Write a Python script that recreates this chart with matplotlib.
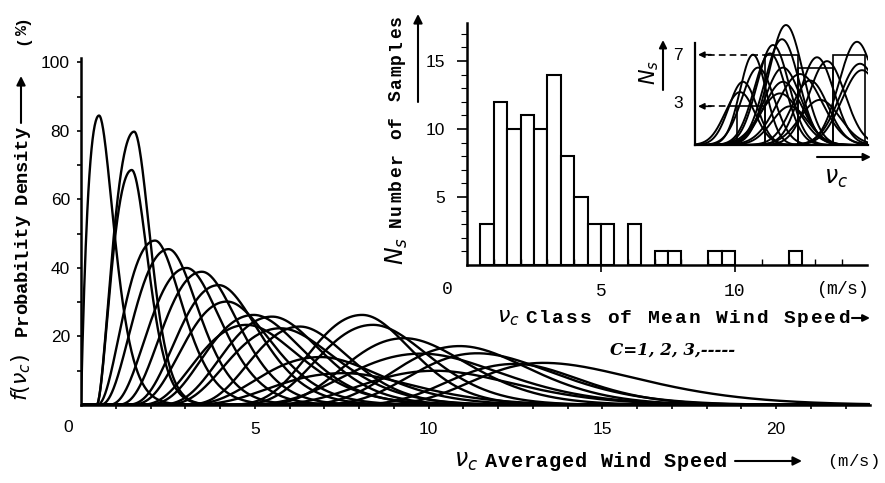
import numpy as np
import matplotlib.pyplot as plt
from matplotlib.patches import FancyArrowPatch

W, H = 885, 483

# main chart: density curves, one per wind-speed class
# (start of support, mode, peak height %, left shape, right shape)
cur_start = [0.00, 0.45, 0.45, 0.45, 0.50, 0.70, 0.90, 1.10, 1.20, 1.50, 1.80, 1.50, 2.00,
             2.50, 3.20, 3.50, 4.00, 4.50, 5.00, 6.50, 6.00, 2.50, 2.50, 3.50, 4.00]
cur_mode = [0.52, 1.53, 1.46, 2.13, 2.52, 3.04, 3.48, 3.96, 4.20, 4.97, 5.50, 4.77, 5.74,
            6.30, 8.09, 8.40, 9.30, 10.90, 11.40, 13.30, 12.50, 7.56, 6.90, 9.80, 10.20]
cur_peak = [84.5, 79.8, 68.6, 48.0, 45.5, 40.0, 38.9, 35.0, 30.2, 26.3, 25.8, 23.4, 22.4,
            22.9, 26.3, 23.4, 19.5, 17.2, 15.1, 12.3, 12.0, 9.3, 14.0, 15.0, 10.0]
cur_kl = [1.0, 2.0, 2.0, 2.5, 3.0, 3.5, 4.0, 4.5, 4.5, 5.0, 5.5, 4.0, 5.0,
          6.0, 9.0, 8.0, 8.0, 10.0, 10.0, 10.0, 10.0, 5.0, 5.0, 7.0, 7.0]
cur_kr = [2.2, 7.0, 6.0, 6.0, 7.0, 7.0, 7.5, 7.5, 7.0, 7.5, 8.5, 6.0, 7.0,
          9.0, 14.0, 11.0, 10.0, 12.0, 10.0, 7.5, 14.0, 8.0, 8.0, 9.0, 9.0]

# histogram of samples per class (left edge of 0.5 m/s bins, count)
hist_left = [0.5, 1.0, 1.5, 2.0, 2.5, 3.0, 3.5, 4.0, 4.5, 5.0, 6.0, 7.0, 7.5, 9.0, 9.5, 12.0]
hist_count = [3, 12, 10, 11, 10, 14, 8, 5, 3, 3, 3, 1, 1, 1, 1, 1]

# small sketch in the corner
ins_mu = [5.8, 4.8, 4.5, 6.3, 9.1, 8.7, 7.8, 8.8, 8.8, 8.5, 7.5, 9.5,
          12.2, 13.2, 12.5, 11.5, 16.2, 16.5, 16.7, 10.5]
ins_h = [7.0, 4.9, 4.1, 6.0, 9.3, 8.2, 7.75, 6.0, 4.9, 4.0, 7.1, 3.0,
         6.8, 6.5, 3.5, 5.0, 8.0, 6.3, 5.8, 5.5]
ins_sd = [1.3, 1.4, 1.5, 1.6, 1.7, 1.7, 1.6, 1.8, 1.9, 2.0, 1.6, 1.8,
          1.7, 1.8, 2.0, 1.8, 1.8, 2.0, 2.0, 2.2]
ins_edges = [4.2, 7.0, 10.3, 13.8, 17.0]
ins_counts = [3, 7, 6, 7]

MONO = 'Liberation Mono'
SANS = 'Liberation Sans'


def fx(p):
    return p / W


def fy(p):
    return 1 - p / H


def bump(x, x0, m, pk, kl, kr):
    t = (x - x0) / (m - x0)
    y = np.zeros_like(x)
    ok = t > 0
    k = np.where(t < 1, kl, kr)
    y[ok] = pk * np.exp(k[ok] * (np.log(t[ok]) - t[ok] + 1))
    return y


fig = plt.figure(figsize=(W / 100, H / 100), dpi=100)


def spaced(s, x, y, pitch, rot=0, size=12, family=MONO, weight='normal'):
    # typewriter style text, one character per fixed pitch (pixels)
    for i, ch in enumerate(s):
        if ch == ' ':
            continue
        if rot == 0:
            fig.text(fx(x + i * pitch), fy(y), ch, ha='center', va='baseline',
                     size=size, family=family, weight=weight)
        else:
            fig.text(fx(x), fy(y - i * pitch), ch, ha='center', va='baseline',
                     rotation=90, rotation_mode='anchor', size=size, family=family,
                     weight=weight)


def arrow(x1, y1, x2, y2, ms=13, lw=1.5):
    fig.add_artist(FancyArrowPatch((fx(x1), fy(y1)), (fx(x2), fy(y2)),
                                   transform=fig.transFigure, arrowstyle='-|>',
                                   mutation_scale=ms, lw=lw, color='k',
                                   shrinkA=0, shrinkB=0))


# ---- main chart ----
ax = fig.add_axes([fx(81), fy(405), (870 - 81) / W, (405 - 58) / H])
xs = np.linspace(0, 22.7, 1500)
for i in range(len(cur_mode)):
    ax.plot(xs, bump(xs, cur_start[i], cur_mode[i], cur_peak[i], cur_kl[i], cur_kr[i]),
            color='k', lw=1.7)
ax.set_xlim(0, 22.7)
ax.set_ylim(0, 101.3)
for s in ['top', 'right']:
    ax.spines[s].set_visible(False)
for s in ['left', 'bottom']:
    ax.spines[s].set_linewidth(1.8)
ax.set_xticks([5, 10, 15, 20])
ax.set_xticks(range(1, 23), minor=True)
ax.set_yticks([20, 40, 60, 80, 100])
ax.set_yticks([10, 30, 50, 70, 90], minor=True)
ax.tick_params(which='both', direction='out', length=3, width=1.2)
ax.tick_params(axis='x', pad=9)
ax.tick_params(axis='y', pad=5)
for lab in ax.get_xticklabels() + ax.get_yticklabels():
    lab.set_family(SANS)
    lab.set_fontsize(12.5)
fig.text(fx(68), fy(428), '0', ha='center', va='center', size=12.5, family=SANS)

# main y label
fig.text(fx(21), fy(378), r'$f(\nu_c)$', rotation=90, ha='center', va='center', size=16)
spaced('Probability Density', 27, 330, 11.0, rot=90, size=13.5, weight='bold')
arrow(21, 123, 21, 76)
spaced('(%)', 27, 40, 10, rot=90, size=12, weight='bold')

# main x label
fig.text(fx(466), fy(461), r'$\nu_c$', ha='center', va='center', size=17)
spaced('Averaged Wind Speed', 491, 467, 12.8, size=14.5, weight='bold')
arrow(735, 461, 802, 461)
spaced('(m/s)', 832, 466, 10.5, size=12.5)

# ---- histogram inset ----
ax2 = fig.add_axes([fx(467), fy(265), 400 / W, (265 - 23) / H], facecolor='none')
ax2.bar(hist_left, hist_count, width=0.5, align='edge', facecolor='white',
        edgecolor='k', lw=1.5)
ax2.set_xlim(0, 14.93)
ax2.set_ylim(0, 17.8)
for s in ['top', 'right']:
    ax2.spines[s].set_visible(False)
for s in ['left', 'bottom']:
    ax2.spines[s].set_linewidth(1.8)
ax2.set_yticks([5, 10, 15])
ax2.set_yticks(range(1, 18), minor=True)
ax2.set_xticks([5, 10])
ax2.set_xticks(range(1, 15), minor=True)
ax2.tick_params(axis='y', which='major', direction='out', length=7, width=1.2, pad=9)
ax2.tick_params(axis='y', which='minor', direction='out', length=4, width=0.8)
ax2.tick_params(axis='x', which='major', direction='inout', length=10, width=1.2, pad=8)
ax2.tick_params(axis='x', which='minor', direction='in', length=4, width=1.0)
for lab in ax2.get_yticklabels():
    lab.set_family(SANS)
    lab.set_fontsize(12.5)
for lab in ax2.get_xticklabels():
    lab.set_family(MONO)
    lab.set_fontsize(13)
fig.text(fx(447), fy(289), '0', ha='center', va='center', size=13, family=MONO)
spaced('(m/s)', 822, 294, 10.0, size=13)

fig.text(fx(508), fy(318), r'$\nu_c$', ha='center', va='center', size=16)
spaced('Class of Mean Wind Speed', 531, 323, 13.6, size=14, weight='bold')
arrow(852, 318, 870, 318, ms=10)
fig.text(fx(673), fy(350), 'C=1, 2, 3,-----', ha='center', va='center', size=12,
         family='DejaVu Serif', style='italic', weight='bold')

fig.text(fx(397), fy(251), r'$N_s$', rotation=90, ha='center', va='center', size=17)
spaced('Number of Samples', 401, 222, 12.6, rot=90, size=13, weight='bold')
arrow(418, 102, 418, 14)

# ---- corner sketch ----
ax3 = fig.add_axes([fx(695), fy(145), (868 - 695) / W, (145 - 16) / H], facecolor='none')
xi = np.linspace(0, 17.3, 600)
for mu, h, sd in zip(ins_mu, ins_h, ins_sd):
    ax3.plot(xi, h * np.exp(-0.5 * ((xi - mu) / sd) ** 2), color='k', lw=1.4)
ax3.bar(ins_edges[:-1], ins_counts, width=np.diff(ins_edges), align='edge',
        fill=False, edgecolor='k', lw=1.2)
ax3.plot([1.3, 7.0], [7, 7], color='k', lw=1.2, ls=(0, (4, 2.5)))
ax3.plot([1.3, 4.2], [3, 3], color='k', lw=1.2, ls=(0, (4, 2.5)))
for lvl in [7, 3]:
    ax3.annotate('', xy=(0.3, lvl), xytext=(1.6, lvl),
                 arrowprops=dict(arrowstyle='-|>', color='k', lw=1.2,
                                 mutation_scale=9, shrinkA=0, shrinkB=0))
ax3.set_xlim(0, 17.3)
ax3.set_ylim(0, 10)
ax3.set_xticks([])
ax3.set_yticks([])
for s in ['top', 'right']:
    ax3.spines[s].set_visible(False)
ax3.spines['left'].set_bounds(0, 7.9)
ax3.spines['left'].set_linewidth(1.6)
ax3.spines['bottom'].set_linewidth(1.6)
fig.text(fx(678), fy(56), '7', ha='center', va='center', size=12.5, family=SANS)
fig.text(fx(678), fy(104), '3', ha='center', va='center', size=12.5, family=SANS)
fig.text(fx(649), fy(73), r'$N_s$', rotation=90, ha='center', va='center', size=15)
arrow(663, 90, 663, 40, ms=11)
arrow(817, 157, 871, 157, ms=11)
fig.text(fx(836), fy(178), r'$\nu_c$', ha='center', va='center', size=17)

fig.savefig('out.png', dpi=100)
